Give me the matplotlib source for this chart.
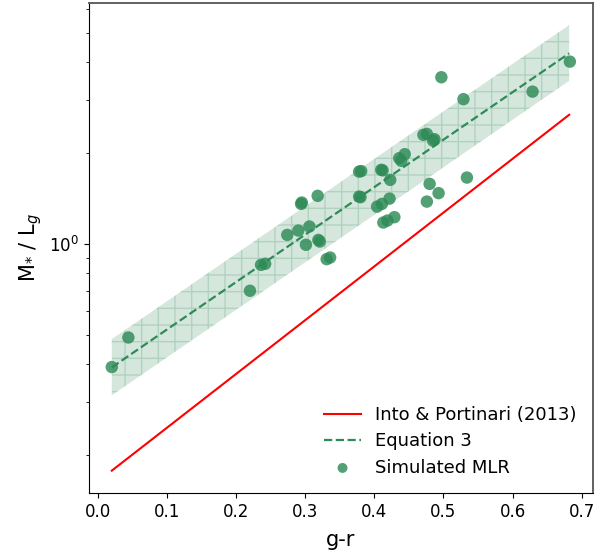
import matplotlib
matplotlib.use("Agg")
import matplotlib.pyplot as plt
import numpy as np

# colour g-r of the simulated galaxies and their mass-to-light ratio
gr = [0.020, 0.044, 0.220, 0.236, 0.242, 0.274, 0.290, 0.294, 0.295, 0.318,
      0.301, 0.306, 0.319, 0.321, 0.331, 0.336, 0.378, 0.381, 0.410, 0.412,
      0.423, 0.378, 0.380, 0.404, 0.411, 0.422, 0.413, 0.419, 0.429, 0.436,
      0.444, 0.439, 0.471, 0.476, 0.485, 0.487, 0.480, 0.493, 0.476, 0.534,
      0.497, 0.529, 0.629, 0.683]
mlr = [0.392, 0.491, 0.701, 0.854, 0.861, 1.073, 1.109, 1.359, 1.373, 1.445,
       0.995, 1.144, 1.033, 1.020, 0.892, 0.903, 1.738, 1.745, 1.762, 1.755,
       1.632, 1.437, 1.430, 1.331, 1.359, 1.415, 1.179, 1.197, 1.228, 1.925,
       1.985, 1.887, 2.300, 2.317, 2.201, 2.225, 1.583, 1.475, 1.383, 1.661,
       3.567, 3.018, 3.197, 4.018]

# straight lines in log space, given by their end points
line_x = [0.02, 0.682]
ip2013_y = [0.178, 2.68]
eq3_y = [0.391, 4.28]
eq3_lo = [0.316, 3.47]
eq3_hi = [0.485, 5.31]

green = "#2e8b57"

fig = plt.figure(figsize=(6.13, 5.52), dpi=100)
ax = fig.add_axes([0.145, 0.107, 0.822, 0.888])

ax.fill_between(line_x, eq3_lo, eq3_hi, facecolor=green, alpha=0.2, linewidth=0)
ax.fill_between(line_x, eq3_lo, eq3_hi, facecolor="none",
                edgecolor=(46 / 255, 139 / 255, 87 / 255, 0.22), hatch="+", linewidth=0)
ax.plot(line_x, ip2013_y, color="red", lw=1.5, label="Into & Portinari (2013)")
ax.plot(line_x, eq3_y, color=green, lw=1.6, ls="--", label="Equation 3")
ax.scatter(gr, mlr, s=80, color=green, alpha=0.82, edgecolors="none", label="Simulated MLR")

ax.set_yscale("log")
ax.set_xlabel("g-r", fontsize=15, labelpad=7)
ax.set_ylabel(r"M$_{*}$ / L$_{g}$", fontsize=15)
ax.tick_params(labelsize=12)
ax.set_xticks(np.arange(0, 0.71, 0.1))

for side in ("top", "right"):
    ax.spines[side].set_color("#555555")
    ax.spines[side].set_linewidth(1.3)

ax.legend(loc="lower right", frameon=False, fontsize=13, labelspacing=0.46,
          markerscale=0.8)

fig.savefig("out.png", dpi=100)
